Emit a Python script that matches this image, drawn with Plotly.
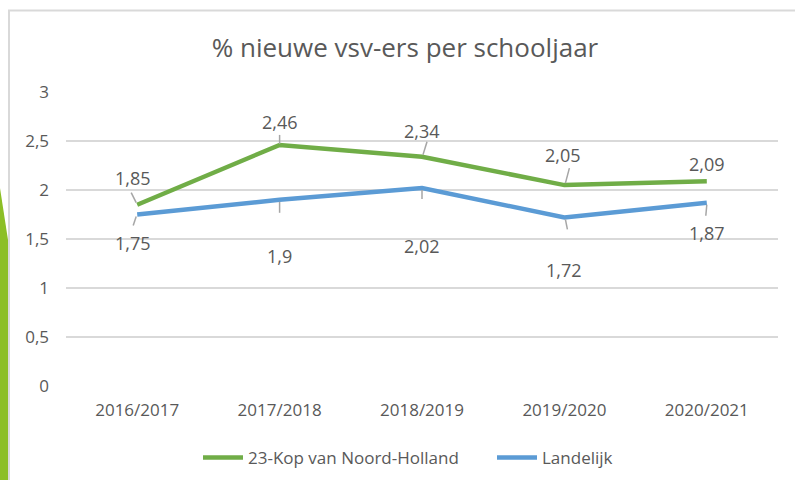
import plotly.graph_objects as go

# ---- data ----
categories = ["2016/2017", "2017/2018", "2018/2019", "2019/2020", "2020/2021"]
kop_values = [1.85, 2.46, 2.34, 2.05, 2.09]
landelijk_values = [1.75, 1.90, 2.02, 1.72, 1.87]
kop_labels = ["1,85", "2,46", "2,34", "2,05", "2,09"]
landelijk_labels = ["1,75", "1,9", "2,02", "1,72", "1,87"]
y_tickvals = [0, 0.5, 1, 1.5, 2, 2.5, 3]
y_ticktext = ["0", "0,5", "1", "1,5", "2", "2,5", "3"]
series_names = ["23-Kop van Noord-Holland", "Landelijk"]
title_text = "% nieuwe vsv-ers per schooljaar"

# ---- style ----
W, H = 795, 480
L, R, T, B = 66, 17, 92, 94
PW, PH = W - L - R, H - T - B
GREEN = "#70AD47"
BLUE = "#5B9BD5"
TXT = "#595959"
FONT = "Open Sans"

# label offsets (px) and leader-line offsets (px, relative to point, y up)
kop_shift = [(-4, 27), (0, 23), (0, 26), (-1, 30), (0, 17)]
lan_shift = [(-4, -28), (0, -56), (0, -58), (0, -53), (0, -30)]
kop_leader = [(-6, 12, -1, 2), (0, 10, 0, 1), (5, 15, 1, 2), (5, 17, 1, 2), None]
lan_leader = [(-1, -2, -4, -11), (0, -2, 0, -13), (0, -2, 0, -11), (1, -2, 3, -12), (0, -2, -1, -13)]


def px(x):
    return (x - L) / PW


def py(y):
    return 1 - (y - T) / PH


fig = go.Figure()
fig.add_trace(go.Scatter(x=categories, y=kop_values, mode="lines", name=series_names[0],
                         line=dict(color=GREEN, width=4.5), hoverinfo="skip", legend="legend"))
fig.add_trace(go.Scatter(x=categories, y=landelijk_values, mode="lines", name=series_names[1],
                         line=dict(color=BLUE, width=4.5), hoverinfo="skip", legend="legend2"))

annotations = []
shapes = []

# decorative slide background: green wedge + chart frame
shapes.append(dict(type="path", xref="paper", yref="paper", layer="below",
                   path=f"M {px(0)} {py(188)} L {px(8)} {py(240)} L {px(8)} {py(480)} L {px(0)} {py(480)} Z",
                   fillcolor="#8CBF26", line=dict(width=0)))
shapes.append(dict(type="rect", xref="paper", yref="paper", layer="below",
                   x0=px(9), y0=py(10.5), x1=px(800), y1=py(485),
                   fillcolor="rgba(0,0,0,0)", line=dict(color="#D9D9D9", width=2)))

for i, (vals, labs, shifts, leaders) in enumerate([
        (kop_values, kop_labels, kop_shift, kop_leader),
        (landelijk_values, landelijk_labels, lan_shift, lan_leader)]):
    for j, (v, lab) in enumerate(zip(vals, labs)):
        annotations.append(dict(x=j, y=v, xref="x", yref="y", text=lab, showarrow=False,
                                xshift=shifts[j][0], yshift=shifts[j][1],
                                font=dict(family=FONT, size=18, color=TXT)))
        ld = leaders[j]
        if ld is not None:
            shapes.append(dict(type="line", xref="x", yref="y",
                               xsizemode="pixel", ysizemode="pixel",
                               xanchor=j, yanchor=v,
                               x0=ld[0], y0=ld[1], x1=ld[2], y1=ld[3],
                               line=dict(color="#A6A6A6", width=1.5)))

legend_style = dict(orientation="h", yanchor="middle", xanchor="left",
                    font=dict(family=FONT, size=17, color=TXT),
                    bgcolor="rgba(0,0,0,0)", itemwidth=40)

fig.update_layout(
    width=W, height=H,
    margin=dict(l=L, r=R, t=T, b=B, autoexpand=False),
    paper_bgcolor="white", plot_bgcolor="white",
    font=dict(family=FONT, color=TXT),
    title=dict(text=title_text, x=px(405), xref="paper", xanchor="center",
               y=1 - 48 / H, yref="container", yanchor="middle",
               font=dict(family=FONT, size=26, color=TXT)),
    xaxis=dict(type="category", range=[-0.5, 4.5], showgrid=False, showline=False,
               zeroline=False, ticks="", ticklabelstandoff=12,
               tickfont=dict(family=FONT, size=17, color=TXT)),
    yaxis=dict(range=[0, 3], tickvals=y_tickvals, ticktext=y_ticktext,
               showgrid=True, gridcolor="#D9D9D9", gridwidth=1.5, zeroline=False,
               showline=False, ticks="", ticklabelstandoff=16,
               tickfont=dict(family=FONT, size=17, color=TXT)),
    showlegend=True,
    legend=dict(x=px(198), y=py(458), **legend_style),
    legend2=dict(x=px(492), y=py(458), **legend_style),
    annotations=annotations,
    shapes=shapes,
)

fig.write_html("out.html", config={"displayModeBar": False},
               post_script="document.body.style.margin='0';")
